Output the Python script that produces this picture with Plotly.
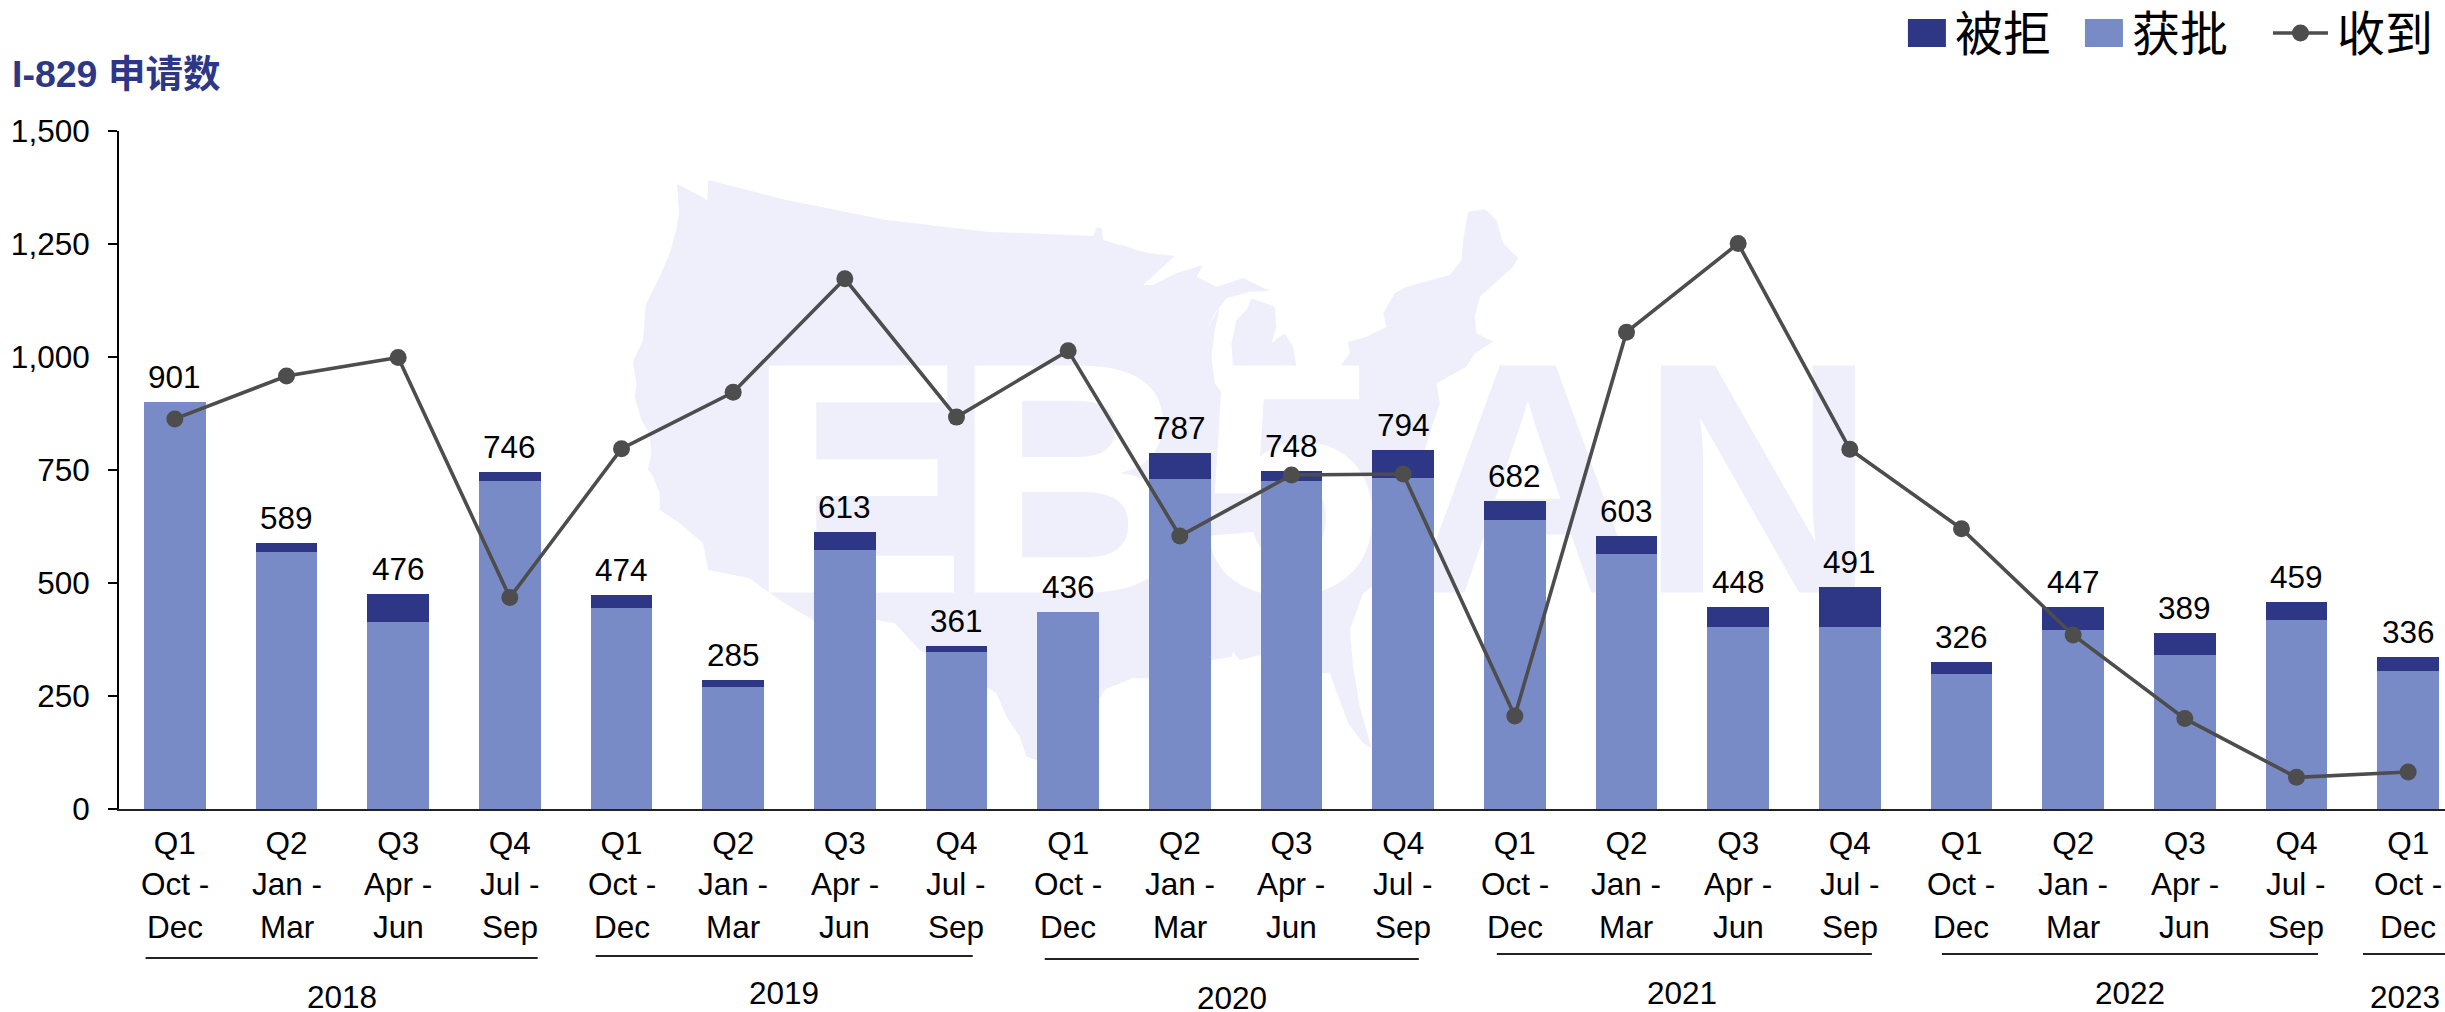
import plotly.graph_objects as go

quarters = ["Q1","Q2","Q3","Q4"]*5 + ["Q1"]
months_a = ["Oct -","Jan -","Apr -","Jul -"]*5 + ["Oct -"]
months_b = ["Dec","Mar","Jun","Sep"]*5 + ["Dec"]
totals   = [901,589,476,746,474,285,613,361,436,787,748,794,682,603,448,491,326,447,389,459,336]
approved = [901,569,413,726,444,269,573,348,436,729,726,732,640,565,403,403,299,395,341,418,305]
denied   = [0,20,63,20,30,16,40,13,0,58,22,62,42,38,45,88,27,52,48,41,31]
received = [863,958,999,468,797,922,1173,867,1014,604,739,741,206,1055,1251,796,620,385,200,70,82]
years    = ["2018","2019","2020","2021","2022","2023"]
y_ticks  = [0,250,500,750,1000,1250,1500]

W, H = 2445, 1012
L, T, B = 119.4, 131, 809
FONT = "Liberation Sans, Arial, Noto Sans CJK SC, sans-serif"
CJK = "Noto Sans CJK SC, sans-serif"
PALE = "#EEEFFB"
DARK = "#2E3785"
LIGHT = "#788BC6"
LINE = "#4D4D4D"
FS = 31.5

def px(x): return (x - L) / (W - L)
def py(y): return (B - y) / (B - T)

# ---- watermark outline (pixel positions), grouped by how it was read
def conv(pts, ox, oy): return [(ox + a / 3, oy + b / 3) for a, b in pts]
outline = conv([(172,42),(255,85),(268,100),(248,135),(262,110),(266,30),(500,90),(800,150),(1100,185),(1420,198),(1432,172),(1445,175),(1450,210),(1500,225)],620,170)
outline += conv([(60,222),(110,240),(150,250),(225,258),(130,345),(160,345),(230,310),(310,285),(290,320),(350,350),(430,325),(510,362),(450,365),(380,385),(345,430),(320,480),(360,410),(345,480),(335,560),(345,640),(375,680),(400,600),(395,520),(410,450),(440,420),(455,385),(525,410),(530,470),(515,520),(555,490),(580,530),(590,590),(720,590),(750,550),(745,515),(800,500),(860,470),(850,430),(885,370),(920,350),(1050,315),(1085,270),(1090,210),(1105,125),(1155,118),(1190,150),(1210,220),(1255,265),(1240,290),(1140,380),(1125,440),(1130,490),(1180,515),(1125,550),(1100,590),(1010,640),(1020,700),(1000,760),(975,840)],1100,170)
outline += [(1430,520),(1395,570)]
outline += conv([(790,400),(750,510),(760,620),(780,740),(815,865),(790,850),(745,790),(725,735),(710,700),(690,640),(670,640),(480,585),(420,600),(400,575),(395,590),(340,600),(146,655),(100,655)],1100,460)
outline += [(1106,689),(1085,720),(1045,770)]
outline += conv([(1250,900),(1220,890),(1200,830),(1160,770),(1130,700),(1100,680),(900,570),(825,490),(770,480),(580,480),(495,430),(430,385),(390,355),(265,330),(250,250),(180,190),(120,150),(120,100),(95,40)],620,460)
outline += conv([(85,900),(95,850),(90,790),(65,750),(45,680),(50,640),(40,575),(70,510),(78,405),(120,320),(150,250),(170,180),(178,130)],620,170)

fig = go.Figure()

# watermark lives on the base axes so the chart sits over it
fig.add_trace(go.Scatter(x=[p[0] for p in outline]+[outline[0][0]], y=[p[1] for p in outline]+[outline[0][1]],
    mode="lines", fill="toself", fillcolor=PALE, line=dict(width=0), hoverinfo="skip", showlegend=False, xaxis="x", yaxis="y"))
for ch, cx, col in [("E",857,"#FFFFFF"),("B",1072,"#FFFFFF"),("5",1290,"#FFFFFF"),("A",1528,PALE),("N",1758,PALE)]:
    fig.add_trace(go.Scatter(x=[cx], y=[510], mode="text", text=[ch], textposition="middle center",
        textfont=dict(family="Liberation Sans, Arial, sans-serif", size=330, color=col, weight="bold"),
        hoverinfo="skip", showlegend=False, xaxis="x", yaxis="y"))

idx = list(range(len(totals)))
fig.add_trace(go.Bar(x=idx, y=approved, name="获批", marker=dict(color=LIGHT, line=dict(width=0)), width=0.555, xaxis="x2", yaxis="y2"))
fig.add_trace(go.Bar(x=idx, y=denied, name="被拒", marker=dict(color=DARK, line=dict(width=0)), width=0.555, xaxis="x2", yaxis="y2"))
fig.add_trace(go.Scatter(x=idx, y=received, name="收到", mode="lines+markers",
    line=dict(color=LINE, width=3.6), marker=dict(color=LINE, size=17), xaxis="x2", yaxis="y2"))

ann = []
for i, v in enumerate(totals):
    ann.append(dict(x=i, xref="x2", y=v, yref="y2", text=str(v), showarrow=False, xanchor="center", yanchor="middle", yshift=25,
                    font=dict(family=FONT, size=FS, color="#000000")))
for i, (a, b) in enumerate(zip(months_a, months_b)):
    for txt, yy in ((a, 884), (b, 927)):
        ann.append(dict(x=i, xref="x2", y=py(yy), yref="paper", text=txt, showarrow=False, xanchor="center", yanchor="middle",
                        font=dict(family=FONT, size=FS, color="#000000")))

year_pos = [(342,997),(784,993),(1232,998),(1682,993),(2130,993),(2405,997)]
year_lines = [(146,538,958),(596,973,956),(1045,1419,959),(1497,1872,954),(1942,2318,954),(2363,2445,954)]
shapes = []
for yr, (xx, yy) in zip(years, year_pos):
    ann.append(dict(x=px(xx), xref="paper", y=py(yy), yref="paper", text=yr, showarrow=False, xanchor="center", yanchor="middle",
                    font=dict(family=FONT, size=FS, color="#000000")))
for x0, x1, yy in year_lines:
    shapes.append(dict(type="line", xref="paper", yref="paper", x0=px(x0), x1=px(x1), y0=py(yy), y1=py(yy), line=dict(color="#222222", width=2)))

# title
ann.append(dict(x=px(10), xref="paper", y=py(74), yref="paper", text="<b>I-829 申请数</b>", showarrow=False, xanchor="left", yanchor="middle",
                font=dict(family=FONT, size=37.5, color=DARK)))

# legend key
for x0, col, label, tx in [(1908, DARK, "被拒", 1953), (2085, LIGHT, "获批", 2130)]:
    shapes.append(dict(type="rect", xref="paper", yref="paper", x0=px(x0), x1=px(x0+38), y0=py(19), y1=py(47), fillcolor=col, line=dict(width=0)))
    ann.append(dict(x=px(tx), xref="paper", y=py(30), yref="paper", text=label, showarrow=False, xanchor="left", yanchor="middle",
                    font=dict(family=CJK, size=48, color="#000000")))
shapes.append(dict(type="line", xref="paper", yref="paper", x0=px(2273), x1=px(2328), y0=py(33), y1=py(33), line=dict(color=LINE, width=3.6)))
shapes.append(dict(type="circle", xref="paper", yref="paper", x0=px(2292), x1=px(2309), y0=py(24.5), y1=py(41.5), fillcolor=LINE, line=dict(width=0)))
ann.append(dict(x=px(2335), xref="paper", y=py(30), yref="paper", text="收到", showarrow=False, xanchor="left", yanchor="middle",
                font=dict(family=CJK, size=48, color="#000000")))

fig.update_layout(
    width=W, height=H, margin=dict(l=L, r=0, t=T, b=H-B, pad=0), autosize=False,
    paper_bgcolor="white", plot_bgcolor="white", barmode="stack", bargap=0.445, showlegend=False,
    font=dict(family=FONT, size=FS, color="#000000"),
    xaxis=dict(domain=[0,1], range=[L, W], visible=False, fixedrange=True),
    yaxis=dict(domain=[0,1], range=[B, T], visible=False, fixedrange=True),
    xaxis2=dict(overlaying="x", anchor="y2", range=[-0.5, 20.33], tickmode="array", tickvals=idx, ticktext=quarters,
                ticks="", showgrid=False, zeroline=False, showline=True, linecolor="#222222", linewidth=2,
                tickfont=dict(family=FONT, size=FS, color="#000000"), tickangle=0, ticklabelstandoff=5),
    yaxis2=dict(overlaying="y", anchor="x2", range=[0, 1500], tickmode="array", tickvals=y_ticks, tickformat=",",
                ticks="outside", ticklen=9, tickwidth=2, tickcolor="#000000", showgrid=False, zeroline=False,
                showline=True, linecolor="#000000", linewidth=2,
                tickfont=dict(family=FONT, size=FS, color="#000000"), ticklabelstandoff=12),
    annotations=ann, shapes=shapes,
)
fig.write_html("out.html", config={"displayModeBar": False},
               post_script="document.body.style.margin='0';document.documentElement.style.overflow='hidden';")
